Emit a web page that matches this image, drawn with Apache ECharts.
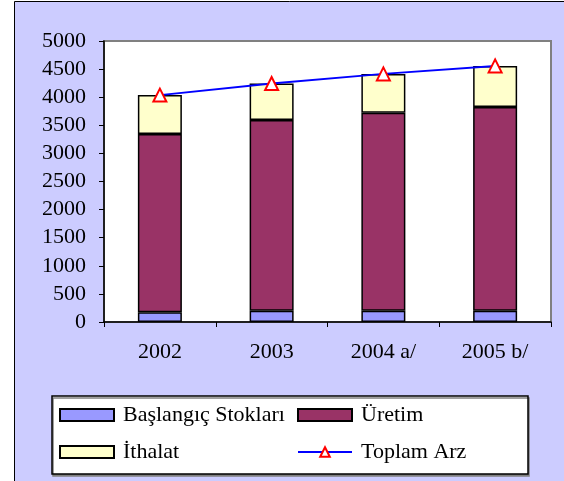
<!DOCTYPE html>
<html>
<head>
<meta charset="utf-8">
<script src="https://cdn.jsdelivr.net/npm/echarts@6/dist/echarts.min.js"></script>
<style>
  html, body { margin: 0; padding: 0; background: #fff; }
  #chart { width: 564px; height: 481px; }
</style>
</head>
<body>
<div id="chart"></div>
<script>
// values
const years = ['2002', '2003', '2004 a/', '2005 b/']
const stoklar = [172, 200, 200, 200]
const uretim = [3174, 3394, 3523, 3624]
const ithalat = [691, 649, 692, 733]
const toplam = [4037, 4243, 4415, 4557]
const yTicks = [0, 5000, 500]  // min, max, step

const font = 'Liberation Serif, Times New Roman, serif'
const chart = echarts.init(document.getElementById('chart'))

const barStyle = color => ({ color: color, borderColor: '#000', borderWidth: 1.5 })

const legendItem = (name, left, top, icon) => ({
  data: [{ name: name, icon: icon }],
  left: left,
  top: top,
  padding: 0,
  itemWidth: 54,
  itemHeight: 12,
  selectedMode: false,
  textStyle: { fontFamily: font, fontSize: 22, color: '#000', padding: [0, 0, 0, 4] }
})

const option = {
  backgroundColor: '#fff',
  animation: false,
  graphic: [
    {
      type: 'rect', z: -10,
      shape: { x: 14.5, y: 1.5, width: 560, height: 490 },
      style: { fill: '#ccccff', stroke: '#000', lineWidth: 1 }
    },
    {
      type: 'rect', z: 1,
      shape: { x: 52, y: 396, width: 476, height: 78 },
      style: {
        fill: '#fff', stroke: '#000', lineWidth: 1.5,
        shadowColor: '#808080', shadowOffsetX: 1, shadowOffsetY: 2
      }
    }
  ],
  grid: {
    left: 104, top: 41, right: 13, bottom: 159,
    show: true, backgroundColor: '#fff', borderColor: '#808080', borderWidth: 2
  },
  legend: [
    legendItem('Başlangıç Stokları', 59, 404, 'rect'),
    legendItem('Üretim', 297, 404, 'rect'),
    legendItem('İthalat', 59, 441, 'rect'),
    legendItem('Toplam Arz', 297, 441)
  ],
  xAxis: {
    type: 'category',
    data: years,
    boundaryGap: true,
    axisLine: { lineStyle: { color: '#000', width: 1.5 } },
    axisTick: { show: true, length: 5, lineStyle: { color: '#000' } },
    axisLabel: { fontFamily: font, fontSize: 22, color: '#000', margin: 19 }
  },
  yAxis: {
    type: 'value',
    min: yTicks[0],
    max: yTicks[1],
    interval: yTicks[2],
    axisLine: { show: true, lineStyle: { color: '#000', width: 1.5 } },
    axisTick: { show: true, length: 5, lineStyle: { color: '#000' } },
    splitLine: { show: false },
    axisLabel: { fontFamily: font, fontSize: 22, color: '#000', margin: 18, formatter: v => String(v) }
  },
  series: [
    { name: 'Başlangıç Stokları', type: 'bar', stack: 'arz', barWidth: 44, data: stoklar, itemStyle: barStyle('#9999ff') },
    { name: 'Üretim', type: 'bar', stack: 'arz', data: uretim, itemStyle: barStyle('#993366') },
    { name: 'İthalat', type: 'bar', stack: 'arz', data: ithalat, itemStyle: barStyle('#ffffcc') },
    {
      name: 'Toplam Arz', type: 'line', data: toplam, z: 5,
      symbol: 'emptyTriangle', symbolSize: 13,
      lineStyle: { color: '#0000ff', width: 2 },
      itemStyle: { color: '#ff0000', borderColor: '#ff0000', borderWidth: 2 }
    }
  ]
}

chart.setOption(option)
</script>
</body>
</html>
